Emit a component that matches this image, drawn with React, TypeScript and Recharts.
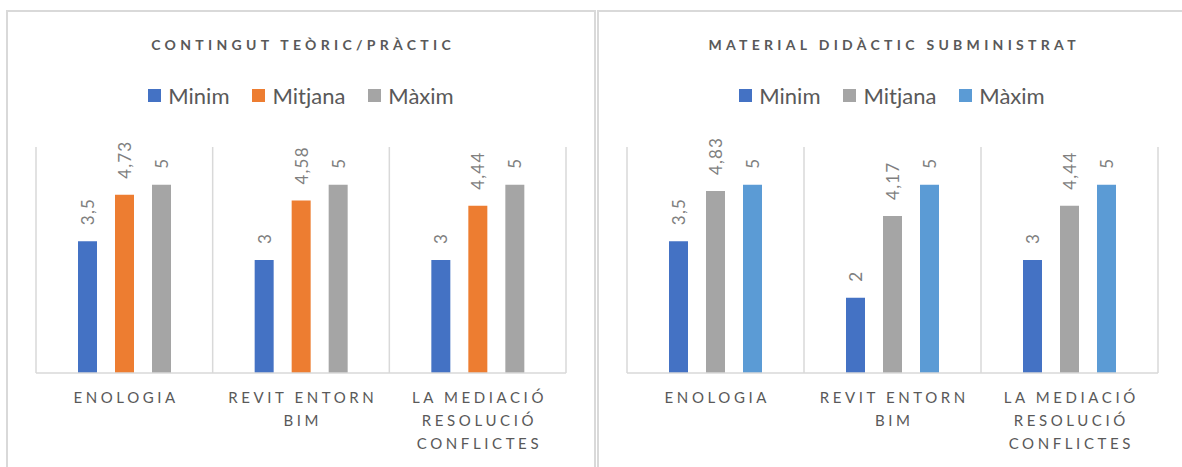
import React from 'react';
import { BarChart, Bar, XAxis, YAxis, CartesianGrid, Legend, LabelList } from 'recharts';

const categories = ['ENOLOGIA', 'REVIT ENTORN\nBIM', 'LA MEDIACIÓ\nRESOLUCIÓ\nCONFLICTES'];
const seriesNames = ['Minim', 'Mitjana', 'Màxim'];

// Contingut teòric/pràctic
const teoricMinim = [3.5, 3, 3];
const teoricMitjana = [4.73, 4.58, 4.44];
const teoricMaxim = [5, 5, 5];

// Material didàctic subministrat
const materialMinim = [3.5, 2, 3];
const materialMitjana = [4.83, 4.17, 4.44];
const materialMaxim = [5, 5, 5];

const FONT = 'Lato, "Open Sans", sans-serif';
const TEXT = '#595959';
const GRID = '#d9d9d9';

const buildRows = (minim: number[], mitjana: number[], maxim: number[]) =>
  categories.map((name, i) => ({
    name,
    [seriesNames[0]]: minim[i],
    [seriesNames[1]]: mitjana[i],
    [seriesNames[2]]: maxim[i],
  }));

const CategoryTick = ({ x, y, payload }: any) => {
  const lines = String(payload.value).split('\n');
  return (
    <text x={x} y={y} textAnchor="middle" fill={TEXT} fontSize={15} fontFamily={FONT} letterSpacing={3.6}>
      {lines.map((line, i) => (
        <tspan key={i} x={x + 1.8} dy={i === 0 ? 30 : 23}>
          {line}
        </tspan>
      ))}
    </text>
  );
};

const ValueLabel = (props: any) => {
  const { x, y, width, value } = props;
  const cx = Number(x) + Number(width) / 2;
  const cy = Number(y) - 16;
  return (
    <text
      x={cx}
      y={cy}
      transform={`rotate(-90 ${cx} ${cy})`}
      textAnchor="start"
      dominantBaseline="central"
      fill="#7f7f7f"
      fontSize={17}
      fontFamily={FONT}
      letterSpacing={1.2}
    >
      {String(value).replace('.', ',')}
    </text>
  );
};

const renderLegend = (props: any) => {
  const { payload } = props;
  return (
    <div
      style={{
        display: 'flex',
        justifyContent: 'center',
        alignItems: 'center',
        fontFamily: FONT,
        fontSize: 22,
        color: TEXT,
        height: 30,
      }}
    >
      {payload.map((entry: any, i: number) => (
        <span key={i} style={{ display: 'flex', alignItems: 'center', marginLeft: i ? 23 : 0 }}>
          <span style={{ width: 13, height: 13, background: entry.color, marginRight: 7, display: 'inline-block' }} />
          {entry.value}
        </span>
      ))}
    </div>
  );
};

function Panel({ title, rows, colors, left, width, marginRight }: any) {
  return (
    <div
      style={{
        position: 'absolute',
        left,
        top: 10,
        width,
        height: 470,
        borderTop: `2px solid ${GRID}`,
        borderLeft: `2px solid ${GRID}`,
        borderRight: `2px solid ${GRID}`,
        boxSizing: 'border-box',
      }}
    >
      <div
        style={{
          position: 'absolute',
          left: 0,
          top: 24,
          width: '100%',
          textAlign: 'center',
          fontFamily: FONT,
          fontWeight: 700,
          fontSize: 14,
          letterSpacing: 4.3,
          color: TEXT,
          paddingLeft: 4.3,
          boxSizing: 'border-box',
        }}
      >
        {title}
      </div>
      <div style={{ position: 'absolute', left: -2, top: -2 }}>
        <BarChart
          width={width}
          height={457}
          data={rows}
          margin={{ top: 137, right: marginRight, bottom: 0, left: 30 }}
          barSize={19}
          barGap={18}
        >
          <CartesianGrid
            horizontal={false}
            stroke={GRID}
            strokeWidth={1.5}
            verticalCoordinatesGenerator={({ offset }: any) =>
              [0, 1, 2, 3].map((i) => offset.left + (offset.width * i) / 3)
            }
          />
          <XAxis
            dataKey="name"
            interval={0}
            tickLine={false}
            tickSize={0}
            tickMargin={0}
            height={94}
            axisLine={{ stroke: GRID, strokeWidth: 1.5 }}
            tick={<CategoryTick />}
          />
          <YAxis hide domain={[0, 6]} />
          <Legend verticalAlign="middle" wrapperStyle={{ top: 70, left: 0, width: '100%' }} content={renderLegend} />
          {seriesNames.map((s, i) => (
            <Bar key={s} dataKey={s} name={s} fill={colors[i]} isAnimationActive={false}>
              <LabelList dataKey={s} content={<ValueLabel />} />
            </Bar>
          ))}
        </BarChart>
      </div>
    </div>
  );
}

export default function App() {
  const teoricRows = buildRows(teoricMinim, teoricMitjana, teoricMaxim);
  const materialRows = buildRows(materialMinim, materialMitjana, materialMaxim);
  return (
    <div style={{ position: 'absolute', left: 0, top: 0, width: 1182, height: 467, background: '#fff', overflow: 'hidden' }}>
      <Panel
        title="CONTINGUT TEÒRIC/PRÀCTIC"
        rows={teoricRows}
        colors={['#4472c4', '#ed7d31', '#a5a5a5']}
        left={6}
        width={590}
        marginRight={30}
      />
      <Panel
        title="MATERIAL DIDÀCTIC SUBMINISTRAT"
        rows={materialRows}
        colors={['#4472c4', '#a5a5a5', '#5b9bd5']}
        left={597}
        width={590}
        marginRight={29}
      />
    </div>
  );
}
